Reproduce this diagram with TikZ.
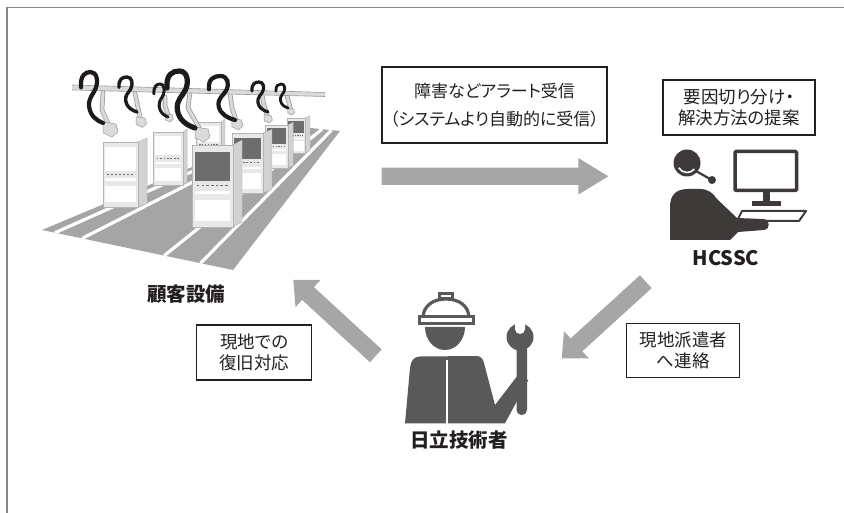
\documentclass[tikz,border=0pt]{standalone}
\usepackage{fontspec}
\setmainfont{Noto Sans CJK JP}[RawFeature=+palt]
\usetikzlibrary{calc}

\definecolor{ink}{HTML}{231F20}
\definecolor{arrowgray}{HTML}{A6A6A6}
\definecolor{floorgray}{HTML}{A5A5A5}
\definecolor{framegray}{HTML}{858585}
\definecolor{rackface}{HTML}{E8E8E8}
\definecolor{rackside}{HTML}{D2D2D2}
\definecolor{rackline}{HTML}{B4B4B4}
\definecolor{screengray}{HTML}{6D6D6D}
\definecolor{armlight}{HTML}{DADADA}
\definecolor{armedge}{HTML}{9A9A9A}
\definecolor{cablec}{HTML}{1E1A1A}
\definecolor{agent}{HTML}{3E3A39}
\definecolor{worker}{HTML}{595959}

\tikzset{
  msgbox/.style={draw=ink, line width=1.1pt, fill=white, inner sep=0pt,
    align=center, text=ink, font=\fontsize{17.5}{21.7}\selectfont},
  caption/.style={text=ink, inner sep=0pt, font=\bfseries\fontsize{19.5}{20}\selectfont},
}

% one cabinet in unit coordinates; #1 = colour of the upper opening, #2 = depth of the side panel
\newcommand\rackbody[2]{%
  \fill[rackside] (1,0) -- ({1+#2},-0.06) -- ({1+#2},0.94) -- (1,1) -- cycle;
  \draw[rackline, line width=0.4pt] (1,0) -- ({1+#2},-0.06) -- ({1+#2},0.94) -- (1,1);
  \filldraw[fill=rackface, draw=rackline, line width=0.4pt] (0,0) rectangle (1,1);
  \fill[#1] (0.07,0.08) rectangle (0.93,0.44);
  \foreach \k in {0,...,6} \fill[screengray] ({0.12+0.115*\k},0.485) rectangle ++(0.06,0.02);
  \fill[white] (0.07,0.56) rectangle (0.93,0.6);
  \fill[white] (0.07,0.67) rectangle (0.93,0.93);
}

% hanging robot arm: mount, elbow, tool centre, tool scale
\newcommand\robotarm[4]{%
  \draw[armedge, line width=4.6pt, line cap=round, line join=round] #1 -- #2 -- #3;
  \draw[armlight, line width=3pt, line cap=round, line join=round] #1 -- #2 -- #3;
  \begin{scope}[shift={#3}, scale=#4]
    \filldraw[fill=armlight, draw=armedge, line width=0.5pt]
      (-7,-6) -- (6,-4) -- (8,4) -- (2,9) -- (-7,5) -- cycle;
  \end{scope}
}

% black supply cable: left, top, width, height, line width
\newcommand\cable[5]{%
  \begin{scope}[shift={(#1,#2)}, xscale=#3, yscale=#4]
    \draw[cablec, line width=#5pt, line cap=round]
      (0,0.3) .. controls (-0.04,0.06) and (0.2,0) .. (0.44,0)
      .. controls (0.72,0) and (0.8,0.18) .. (0.66,0.33)
      .. controls (0.55,0.45) and (0.33,0.5) .. (0.37,0.68)
      .. controls (0.42,0.86) and (0.7,0.95) .. (1,1);
  \end{scope}
}

% broad grey arrow: tail, tip, head length, shaft half width, head half width
\newcommand\fatarrow[5]{%
  \coordinate (#1-base) at ($(#2)!#3!(#1)$);
  \fill[arrowgray] ($(#1)!#4!90:(#2)$) -- ($(#1-base)!#4!90:(#2)$)
    -- ($(#1-base)!#5!90:(#2)$) -- (#2) -- ($(#1-base)!#5!-90:(#2)$)
    -- ($(#1-base)!#4!-90:(#2)$) -- ($(#1)!#4!-90:(#2)$) -- cycle;
}

\begin{document}
\begin{tikzpicture}[x=1pt, y=-1pt]
\useasboundingbox (0,0) rectangle (844,513);

% outer frame
\draw[framegray, line width=1.6pt] (7,513) -- (7,7.5) -- (844,7.5);

% ---------- production line ----------
\fill[floorgray] (42,230) -- (233,270) -- (340,131) -- (290,126) -- cycle;
\foreach \f in {0.068,0.21,0.64,0.83}
  \draw[white, line width=3.2pt] ({42+191*\f},{230+40*\f}) -- ({290+50*\f},{126+5*\f});

\foreach \x/\y/\w/\h/\s/\c in {
    287/118/18/35/0.28/screengray,
    265/125/23/43/0.22/screengray,
    232/133/31/60/0.29/screengray,
    196/122/25/45/0.16/white,
    153/132/30/53/0.14/white,
    103/142/35/65/0.26/white,
    192/145/41/82/0.22/screengray} {
  \begin{scope}[shift={(\x,\y)}, xscale=\w, yscale=\h]
    \rackbody{\c}{\s}
  \end{scope}
}

\robotarm{(103,92)}{(102,110)}{(110,128)}{1}
\robotarm{(135,93)}{(138,108)}{(141,121)}{0.7}
\robotarm{(165,97)}{(165,106)}{(169,117)}{0.55}
\robotarm{(190,92)}{(188,108)}{(202,133)}{1}
\robotarm{(230,93)}{(232,108)}{(237,123)}{0.75}
\robotarm{(262,95)}{(264,105)}{(268,118)}{0.55}
\robotarm{(287,96)}{(289,103)}{(291,111)}{0.45}

% overhead rail
\fill[armlight] (72,85) -- (325,92.5) -- (325,96.5) -- (72,90) -- cycle;
\draw[armedge, line width=0.6pt] (72,85) -- (325,92.5) (72,90) -- (325,96.5);

\cable{81}{72}{22}{51}{4.2}
\cable{119}{77}{18}{35}{3.4}
\cable{154}{84}{14}{33}{3}
\cable{167}{71}{28}{57}{5.2}
\cable{209}{76}{26}{44}{4.2}
\cable{252}{82}{16}{30}{3.2}
\cable{276}{84}{12}{24}{2.8}

\node[caption] (site) at (186,294) {顧客設備};

% ---------- support centre operator ----------
\fill[agent] (687,163) circle (13.5);
\draw[white, line width=1.6pt] (687,163) ++(150:9.5) arc[start angle=150, end angle=40, radius=9.5];
\draw[agent, line width=2.2pt] (696,171) -- (710,179);
\fill[agent] (712,180) circle (4);
\fill[agent] (670,240) -- (670,207) .. controls (670,195) and (676,189) .. (688,189)
  -- (700,189) .. controls (708,189) and (713,193) .. (717,199) -- (737,218)
  -- (763,219) .. controls (770,219) and (771,229) .. (764,230) -- (738,232) -- (730,240) -- cycle;
\draw[agent, line width=3.5pt, rounded corners=1pt] (735,151.5) rectangle (796.5,190.5);
\fill[agent] (763,192) rectangle (769.5,203);
\fill[agent] (752,201.5) rectangle (781,206.5);
\draw[agent, line width=2pt, line join=round] (742,211) -- (806,211) -- (799,221) -- (737,221) -- cycle;
\node[caption, font=\bfseries\fontsize{20}{20}\selectfont] (hcssc) at (726,258) {HCSSC};

% ---------- field engineer ----------
\draw[worker, line width=3.2pt, fill=white] (423,318) .. controls (423,306) and (433,299) .. (446,299)
  .. controls (459,299) and (469,306) .. (469,318);
\draw[worker, line width=3pt, fill=white] (439,293.5) rectangle (452,298.5);
\draw[worker, line width=3pt, fill=white] (419,317) rectangle (473,323.5);
\fill[worker] (465,327) arc[start angle=0, end angle=180, x radius=20, y radius=23] -- cycle;
\fill[worker] (405,423.3) -- (410,368) .. controls (411,361) and (413,357) .. (420,356.5)
  -- (476,356) .. controls (481,356) and (483,359) .. (484,363) -- (495,405)
  -- (516.7,376.7) -- (528.3,380) -- (505,423.3) -- cycle;
\draw[white, line width=1.8pt] (447,360) -- (447,424);
\fill[worker] (520,337) circle (13.5);
\fill[worker, rounded corners=5pt] (516.5,340) rectangle (527,415);
\fill[white] (515,319) -- (515,329) arc[start angle=180, end angle=0, radius=5] -- (525,319) -- cycle;
\node[caption] (eng) at (459,440) {日立技術者};

% ---------- messages ----------
\node[msgbox, minimum width=225pt, minimum height=76pt, font=\fontsize{17}{28.4}\selectfont]
  (alert) at (494.5,105) {障害などアラート受信\\（システムより自動的に受信）};
\node[msgbox, minimum width=152pt, minimum height=55pt] (propose) at (739,107.5)
  {要因切り分け・\\解決方法の提案};
\node[msgbox, minimum width=115pt, minimum height=55pt] (restore) at (254.2,352.5)
  {現地での\\復旧対応};
\node[msgbox, minimum width=113pt, minimum height=54pt] (dispatch) at (683.3,350.3)
  {現地派遣者\\へ連絡};

% ---------- flow arrows ----------
\coordinate (flowA) at (381.7,176.3);  \coordinate (flowAtip) at (608.3,176.3);
\coordinate (flowB) at (645.8,281.7);  \coordinate (flowBtip) at (561.7,358.3);
\coordinate (flowC) at (375.8,355.8);  \coordinate (flowCtip) at (293.3,280);
\fatarrow{flowA}{flowAtip}{30pt}{8.7pt}{18.3pt}
\fatarrow{flowB}{flowBtip}{20pt}{8.7pt}{18.5pt}
\fatarrow{flowC}{flowCtip}{20pt}{8.7pt}{18.5pt}
\end{tikzpicture}
\end{document}
